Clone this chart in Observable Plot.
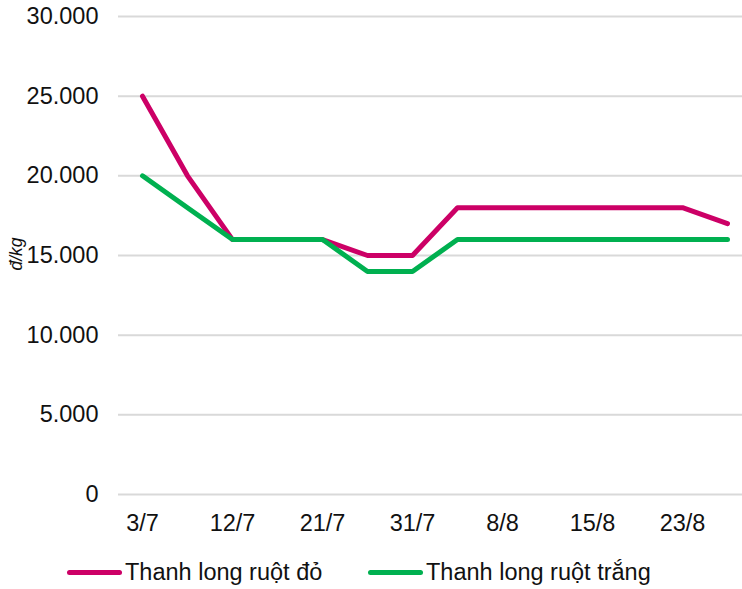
<!DOCTYPE html>
<html>
<head>
<meta charset="utf-8">
<script src="https://cdn.jsdelivr.net/npm/d3@7"></script>
<script src="https://cdn.jsdelivr.net/npm/@observablehq/plot@0.6"></script>
<style>
  html, body { margin: 0; padding: 0; background: #fff; }
  body { width: 742px; height: 589px; overflow: hidden; font-family: "Liberation Sans", Arial, sans-serif; }
  #chart svg { display: block; }
  #legend { position: relative; height: 49px; }
  .item { position: absolute; top: 19px; display: flex; align-items: center; font-size: 23.5px; color: #111; }
  .swatch { width: 55px; height: 5px; border-radius: 3px; margin-right: 3px; }
</style>
</head>
<body>
<div id="chart"></div>
<div id="legend"></div>
<script>
const dates = ["3/7","7/7","12/7","16/7","21/7","26/7","31/7","4/8","8/8","11/8","15/8","19/8","23/8","27/8"];
const tickLabels = ["3/7","12/7","21/7","31/7","8/8","15/8","23/8"];
const seriesNames = ["Thanh long ruột đỏ", "Thanh long ruột trắng"];
const redValues = [25000,20000,16000,16000,16000,15000,15000,18000,18000,18000,18000,18000,18000,17000];
const greenValues = [20000,18000,16000,16000,16000,14000,14000,16000,16000,16000,16000,16000,16000,16000];
const colors = ["#CC0066", "#00B050"];
const yTicks = [0,5000,10000,15000,20000,25000,30000];

const data = [];
dates.forEach((d, i) => {
  data.push({date: d, value: redValues[i], series: seriesNames[0]});
  data.push({date: d, value: greenValues[i], series: seriesNames[1]});
});

const fmt = v => d3.format(",")(v).replace(/,/g, ".");

const chart = Plot.plot({
  width: 742,
  height: 540,
  marginTop: 16,
  marginBottom: 46,
  marginLeft: 118,
  marginRight: 0,
  style: {fontFamily: '"Liberation Sans", Arial, sans-serif', fontSize: "23.5px", color: "#111", background: "#fff"},
  x: {type: "point", domain: dates, range: [141, 727], padding: 0, align: 0.5, ticks: tickLabels, tickSize: 0, tickPadding: 20, label: null},
  y: {domain: [0, 30000], ticks: yTicks, tickFormat: fmt, tickSize: 0, tickPadding: 20, label: null},
  color: {domain: seriesNames, range: colors},
  marks: [
    Plot.ruleY(yTicks, {stroke: "#d9d9d9", strokeWidth: 2}),
    Plot.line(data, {x: "date", y: "value", z: "series", stroke: "series", strokeWidth: 5, strokeLinecap: "round", strokeLinejoin: "round"}),
    Plot.text(["đ/kg"], {frameAnchor: "left", dx: -102, dy: 15, rotate: -90, fontSize: 17.5, fontStyle: "italic", fill: "#111"})
  ]
});
document.getElementById("chart").appendChild(chart);

const legend = document.getElementById("legend");
const lefts = [67, 368];
seriesNames.forEach((n, i) => {
  const it = document.createElement("div");
  it.className = "item";
  it.style.left = lefts[i] + "px";
  const sw = document.createElement("div");
  sw.className = "swatch";
  sw.style.background = colors[i];
  const t = document.createElement("span");
  t.textContent = n;
  it.appendChild(sw); it.appendChild(t);
  legend.appendChild(it);
});
</script>
</body>
</html>
